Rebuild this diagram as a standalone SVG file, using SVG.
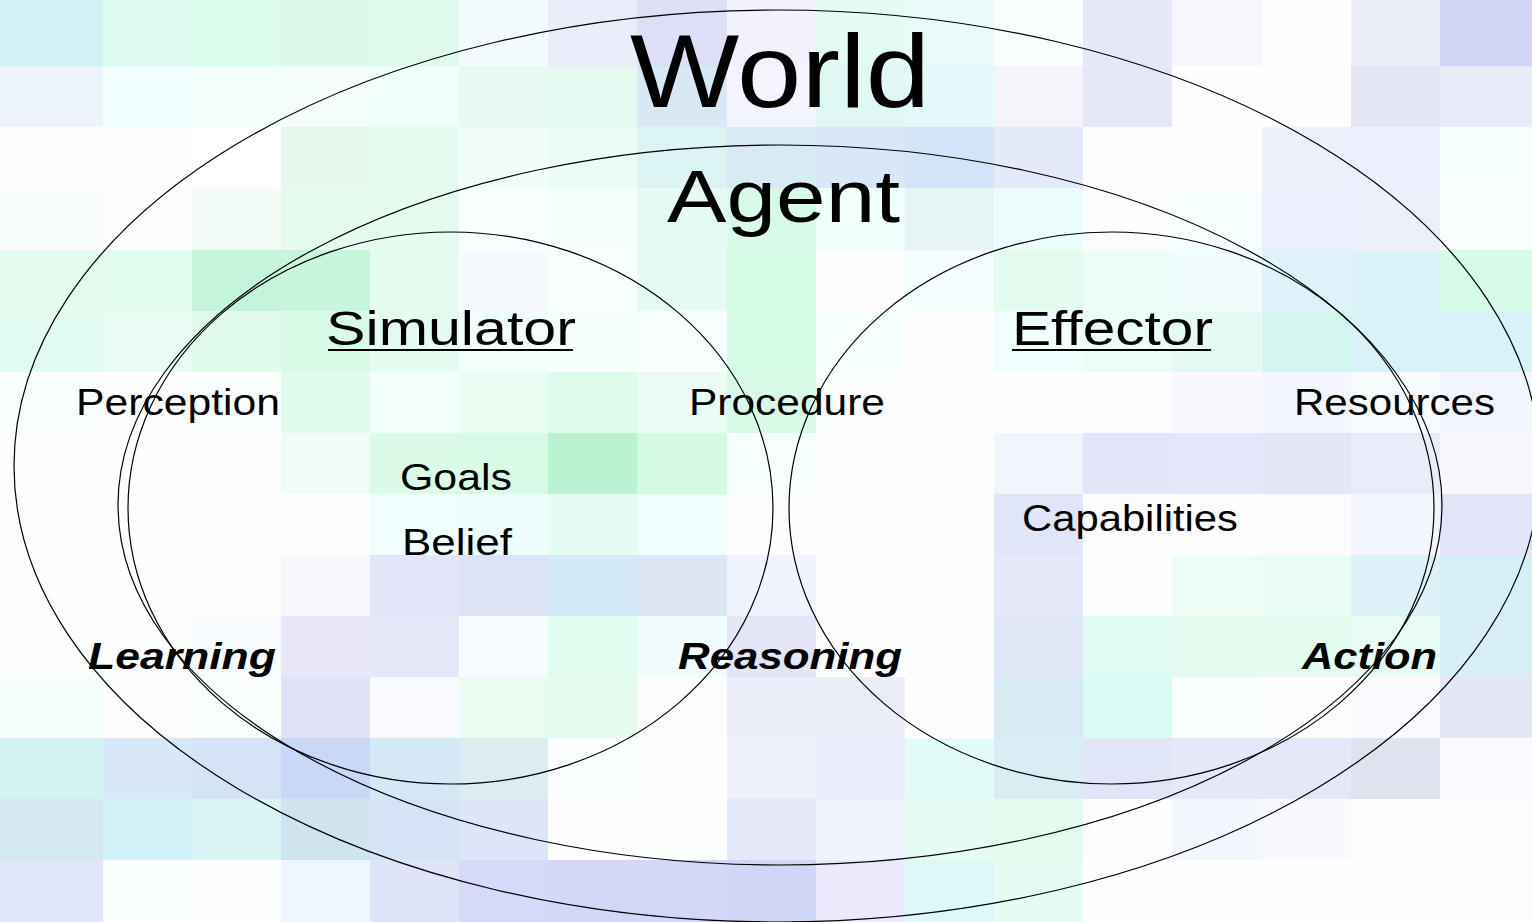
<svg xmlns="http://www.w3.org/2000/svg" width="1532" height="922" viewBox="0 0 1532 922">
<style>
.ring{fill:none;stroke:#000;stroke-width:1.2}
.lbl{font-family:"Liberation Sans",Arial,sans-serif;fill:#000}
.bi{font-weight:bold;font-style:italic}
.ul{stroke:#000;stroke-width:2.2}
</style>
<g id="background" shape-rendering="crispEdges">
<g transform="translate(0,0)">
<rect x="0" width="104" height="67" fill="#d2f2f6"/><rect x="103" width="90" height="67" fill="#dcfbee"/><rect x="192" width="90" height="67" fill="#dcfcec"/><rect x="281" width="90" height="67" fill="#def9ea"/><rect x="370" width="90" height="67" fill="#e0fbee"/><rect x="459" width="90" height="67" fill="#f2fbfd"/><rect x="548" width="90" height="67" fill="#eaeefa"/><rect x="637" width="91" height="67" fill="#dcdff6"/><rect x="727" width="90" height="67" fill="#f2f2fc"/><rect x="816" width="90" height="67" fill="#e4faf4"/><rect x="905" width="90" height="67" fill="#e8fbf8"/><rect x="994" width="90" height="67" fill="#fafefe"/><rect x="1083" width="90" height="67" fill="#e4e8f8"/><rect x="1172" width="91" height="67" fill="#f6f6fc"/><rect x="1262" width="90" height="67" fill="#fefefe"/><rect x="1351" width="90" height="67" fill="#eceef8"/><rect x="1440" width="92" height="67" fill="#d0d6f6"/>
</g>
<g transform="translate(0,66)">
<rect x="0" width="104" height="62" fill="#eef4fc"/><rect x="103" width="90" height="62" fill="#f0fefe"/><rect x="192" width="90" height="62" fill="#f2fefc"/><rect x="281" width="90" height="62" fill="#f4fdfb"/><rect x="370" width="90" height="62" fill="#f0fefc"/><rect x="459" width="90" height="62" fill="#e6faf2"/><rect x="548" width="90" height="62" fill="#e4faf0"/><rect x="637" width="91" height="62" fill="#d8e8f4"/><rect x="727" width="90" height="62" fill="#f4f4fe"/><rect x="816" width="90" height="62" fill="#e0f8f4"/><rect x="905" width="90" height="62" fill="#e4fafa"/><rect x="994" width="90" height="62" fill="#f4f4fa"/><rect x="1083" width="90" height="62" fill="#e4e8f6"/><rect x="1172" width="91" height="62" fill="#fefefe"/><rect x="1262" width="90" height="62" fill="#fcfefe"/><rect x="1351" width="90" height="62" fill="#e4e6f4"/><rect x="1440" width="92" height="62" fill="#e8ecf8"/>
</g>
<g transform="translate(0,127)">
<rect x="0" width="104" height="62" fill="#fafcff"/><rect x="103" width="90" height="62" fill="#fcfffd"/><rect x="192" width="90" height="62" fill="#fefffe"/><rect x="281" width="90" height="62" fill="#e4f8ec"/><rect x="370" width="90" height="62" fill="#e4fbef"/><rect x="459" width="90" height="62" fill="#f0fdf8"/><rect x="548" width="90" height="62" fill="#eafcf4"/><rect x="637" width="91" height="62" fill="#dcf4f4"/><rect x="727" width="90" height="62" fill="#d8eaf4"/><rect x="816" width="90" height="62" fill="#d8e8f8"/><rect x="905" width="90" height="62" fill="#d4e4f8"/><rect x="994" width="90" height="62" fill="#e4eafa"/><rect x="1083" width="90" height="62" fill="#fefefe"/><rect x="1172" width="91" height="62" fill="#fefefe"/><rect x="1262" width="90" height="62" fill="#eef0fc"/><rect x="1351" width="90" height="62" fill="#eceffc"/><rect x="1440" width="92" height="62" fill="#f6fefe"/>
</g>
<g transform="translate(0,188)">
<rect x="0" width="104" height="63" fill="#f8fcfc"/><rect x="103" width="90" height="63" fill="#fefefe"/><rect x="192" width="90" height="63" fill="#f4fcf8"/><rect x="281" width="90" height="63" fill="#e4fbee"/><rect x="370" width="90" height="63" fill="#e6fbf0"/><rect x="459" width="90" height="63" fill="#fafefe"/><rect x="548" width="90" height="63" fill="#f4fefc"/><rect x="637" width="91" height="63" fill="#e4faf2"/><rect x="727" width="90" height="63" fill="#d8fae8"/><rect x="816" width="90" height="63" fill="#f0fefc"/><rect x="905" width="90" height="63" fill="#e6f4f6"/><rect x="994" width="90" height="63" fill="#eafcfc"/><rect x="1083" width="90" height="63" fill="#fcfefe"/><rect x="1172" width="91" height="63" fill="#f6fefe"/><rect x="1262" width="90" height="63" fill="#eceffc"/><rect x="1351" width="90" height="63" fill="#ecf0fb"/><rect x="1440" width="92" height="63" fill="#fafefe"/>
</g>
<g transform="translate(0,250)">
<rect x="0" width="104" height="62" fill="#e4fbf0"/><rect x="103" width="90" height="62" fill="#e2fcee"/><rect x="192" width="90" height="62" fill="#c4f5da"/><rect x="281" width="90" height="62" fill="#c8f6dc"/><rect x="370" width="90" height="62" fill="#e4fcef"/><rect x="459" width="90" height="62" fill="#f6fafe"/><rect x="548" width="90" height="62" fill="#f8fefe"/><rect x="637" width="91" height="62" fill="#e4fcf2"/><rect x="727" width="90" height="62" fill="#d4fbe4"/><rect x="816" width="90" height="62" fill="#fefefe"/><rect x="905" width="90" height="62" fill="#f4fefe"/><rect x="994" width="90" height="62" fill="#e4fcf0"/><rect x="1083" width="90" height="62" fill="#eefdf8"/><rect x="1172" width="91" height="62" fill="#f0fcfe"/><rect x="1262" width="90" height="62" fill="#dff4fa"/><rect x="1351" width="90" height="62" fill="#daf2f8"/><rect x="1440" width="92" height="62" fill="#d8fcea"/>
</g>
<g transform="translate(0,311)">
<rect x="0" width="104" height="62" fill="#e2fbf0"/><rect x="103" width="90" height="62" fill="#e8fcf4"/><rect x="192" width="90" height="62" fill="#e0fbec"/><rect x="281" width="90" height="62" fill="#d8fae6"/><rect x="370" width="90" height="62" fill="#e4fcf0"/><rect x="459" width="90" height="62" fill="#f2fefc"/><rect x="548" width="90" height="62" fill="#f4fefc"/><rect x="637" width="91" height="62" fill="#f8fefe"/><rect x="727" width="90" height="62" fill="#d4fbe6"/><rect x="816" width="90" height="62" fill="#f6fefe"/><rect x="905" width="90" height="62" fill="#fefefe"/><rect x="994" width="90" height="62" fill="#f0fefe"/><rect x="1083" width="90" height="62" fill="#ecfcf6"/><rect x="1172" width="91" height="62" fill="#e4faf2"/><rect x="1262" width="90" height="62" fill="#d4f6f0"/><rect x="1351" width="90" height="62" fill="#d8f2f8"/><rect x="1440" width="92" height="62" fill="#d8f2f8"/>
</g>
<g transform="translate(0,372)">
<rect x="0" width="104" height="62" fill="#f8fefe"/><rect x="103" width="90" height="62" fill="#fefefe"/><rect x="192" width="90" height="62" fill="#fafefe"/><rect x="281" width="90" height="62" fill="#e0fbec"/><rect x="370" width="90" height="62" fill="#f2fefa"/><rect x="459" width="90" height="62" fill="#e8fcf2"/><rect x="548" width="90" height="62" fill="#dcfbea"/><rect x="637" width="91" height="62" fill="#eafcf4"/><rect x="727" width="90" height="62" fill="#d8fbe8"/><rect x="816" width="90" height="62" fill="#fcfefe"/><rect x="905" width="90" height="62" fill="#fefefe"/><rect x="994" width="90" height="62" fill="#fefefe"/><rect x="1083" width="90" height="62" fill="#fcfefe"/><rect x="1172" width="91" height="62" fill="#f8f8fe"/><rect x="1262" width="90" height="62" fill="#f4f6fe"/><rect x="1351" width="90" height="62" fill="#f8fcfe"/><rect x="1440" width="92" height="62" fill="#f2f4fe"/>
</g>
<g transform="translate(0,433)">
<rect x="0" width="104" height="62" fill="#fefefe"/><rect x="103" width="90" height="62" fill="#fefefe"/><rect x="192" width="90" height="62" fill="#fefefe"/><rect x="281" width="90" height="62" fill="#f0fdf6"/><rect x="370" width="90" height="62" fill="#dcfae8"/><rect x="459" width="90" height="62" fill="#d8fae6"/><rect x="548" width="90" height="62" fill="#b8f2d0"/><rect x="637" width="91" height="62" fill="#d4fae4"/><rect x="727" width="90" height="62" fill="#f6fefe"/><rect x="816" width="90" height="62" fill="#fefefe"/><rect x="905" width="90" height="62" fill="#fefefe"/><rect x="994" width="90" height="62" fill="#f2f6fc"/><rect x="1083" width="90" height="62" fill="#e2e6f8"/><rect x="1172" width="91" height="62" fill="#e4e8fa"/><rect x="1262" width="90" height="62" fill="#e4e6f8"/><rect x="1351" width="90" height="62" fill="#eaecfa"/><rect x="1440" width="92" height="62" fill="#f6f8fe"/>
</g>
<g transform="translate(0,494)">
<rect x="0" width="104" height="62" fill="#fcfefe"/><rect x="103" width="90" height="62" fill="#fefefe"/><rect x="192" width="90" height="62" fill="#fefefe"/><rect x="281" width="90" height="62" fill="#fefefe"/><rect x="370" width="90" height="62" fill="#f0fefe"/><rect x="459" width="90" height="62" fill="#eefefc"/><rect x="548" width="90" height="62" fill="#e4fcf2"/><rect x="637" width="91" height="62" fill="#f0fefe"/><rect x="727" width="90" height="62" fill="#fcfcfe"/><rect x="816" width="90" height="62" fill="#fefefe"/><rect x="905" width="90" height="62" fill="#fefefe"/><rect x="994" width="90" height="62" fill="#e0e6f8"/><rect x="1083" width="90" height="62" fill="#fefefe"/><rect x="1172" width="91" height="62" fill="#fefefe"/><rect x="1262" width="90" height="62" fill="#fcfcfe"/><rect x="1351" width="90" height="62" fill="#f4f6fe"/><rect x="1440" width="92" height="62" fill="#e2e5f8"/>
</g>
<g transform="translate(0,555)">
<rect x="0" width="104" height="62" fill="#fefefe"/><rect x="103" width="90" height="62" fill="#fefefe"/><rect x="192" width="90" height="62" fill="#fefefe"/><rect x="281" width="90" height="62" fill="#f6f8fe"/><rect x="370" width="90" height="62" fill="#e2e6f8"/><rect x="459" width="90" height="62" fill="#dfe3f8"/><rect x="548" width="90" height="62" fill="#d4eaf8"/><rect x="637" width="91" height="62" fill="#dce6f4"/><rect x="727" width="90" height="62" fill="#f0f4fe"/><rect x="816" width="90" height="62" fill="#fefefe"/><rect x="905" width="90" height="62" fill="#fcfcfe"/><rect x="994" width="90" height="62" fill="#e4e8f8"/><rect x="1083" width="90" height="62" fill="#fcfefe"/><rect x="1172" width="91" height="62" fill="#eefcf6"/><rect x="1262" width="90" height="62" fill="#eafcf6"/><rect x="1351" width="90" height="62" fill="#dcf2f8"/><rect x="1440" width="92" height="62" fill="#d6eef8"/>
</g>
<g transform="translate(0,616)">
<rect x="0" width="104" height="62" fill="#fcfefe"/><rect x="103" width="90" height="62" fill="#fefefe"/><rect x="192" width="90" height="62" fill="#f8fcfe"/><rect x="281" width="90" height="62" fill="#e8e8f8"/><rect x="370" width="90" height="62" fill="#e4e8f8"/><rect x="459" width="90" height="62" fill="#f8fcfe"/><rect x="548" width="90" height="62" fill="#e0fcee"/><rect x="637" width="91" height="62" fill="#f0fcfe"/><rect x="727" width="90" height="62" fill="#e4e6f8"/><rect x="816" width="90" height="62" fill="#fefefe"/><rect x="905" width="90" height="62" fill="#fcfcfe"/><rect x="994" width="90" height="62" fill="#e0e8f8"/><rect x="1083" width="90" height="62" fill="#e0fbf2"/><rect x="1172" width="91" height="62" fill="#e4fcf0"/><rect x="1262" width="90" height="62" fill="#e4fcf0"/><rect x="1351" width="90" height="62" fill="#e8fcf4"/><rect x="1440" width="92" height="62" fill="#d8eef8"/>
</g>
<g transform="translate(0,677)">
<rect x="0" width="104" height="62" fill="#f4fefa"/><rect x="103" width="90" height="62" fill="#fefefe"/><rect x="192" width="90" height="62" fill="#fafefe"/><rect x="281" width="90" height="62" fill="#e0e2f8"/><rect x="370" width="90" height="62" fill="#f8fafe"/><rect x="459" width="90" height="62" fill="#e8fcf0"/><rect x="548" width="90" height="62" fill="#e4fbee"/><rect x="637" width="91" height="62" fill="#fcfefe"/><rect x="727" width="90" height="62" fill="#eceefa"/><rect x="816" width="90" height="62" fill="#eceefa"/><rect x="905" width="90" height="62" fill="#fefefe"/><rect x="994" width="90" height="62" fill="#d8eaf4"/><rect x="1083" width="90" height="62" fill="#d8fcf4"/><rect x="1172" width="91" height="62" fill="#f8fefe"/><rect x="1262" width="90" height="62" fill="#fefefe"/><rect x="1351" width="90" height="62" fill="#fcfafe"/><rect x="1440" width="92" height="62" fill="#e4e6f8"/>
</g>
<g transform="translate(0,738)">
<rect x="0" width="104" height="62" fill="#d4f4f2"/><rect x="103" width="90" height="62" fill="#d8e8f8"/><rect x="192" width="90" height="62" fill="#d4e4f6"/><rect x="281" width="90" height="62" fill="#c8d8f6"/><rect x="370" width="90" height="62" fill="#d4e8f6"/><rect x="459" width="90" height="62" fill="#dcecf0"/><rect x="548" width="90" height="62" fill="#fafefe"/><rect x="637" width="91" height="62" fill="#fefefe"/><rect x="727" width="90" height="62" fill="#eef0fc"/><rect x="816" width="90" height="62" fill="#eaeefc"/><rect x="905" width="90" height="62" fill="#e4fcf8"/><rect x="994" width="90" height="62" fill="#d8eef4"/><rect x="1083" width="90" height="62" fill="#e0e6f8"/><rect x="1172" width="91" height="62" fill="#e4e8f8"/><rect x="1262" width="90" height="62" fill="#e4e8f8"/><rect x="1351" width="90" height="62" fill="#e0e2f0"/><rect x="1440" width="92" height="62" fill="#f8fafe"/>
</g>
<g transform="translate(0,799)">
<rect x="0" width="104" height="62" fill="#d4e8f4"/><rect x="103" width="90" height="62" fill="#d0f2f8"/><rect x="192" width="90" height="62" fill="#d8f4f4"/><rect x="281" width="90" height="62" fill="#d0e4f0"/><rect x="370" width="90" height="62" fill="#d4e4f6"/><rect x="459" width="90" height="62" fill="#dce6f8"/><rect x="548" width="90" height="62" fill="#fefefe"/><rect x="637" width="91" height="62" fill="#fcfefe"/><rect x="727" width="90" height="62" fill="#e4e8f8"/><rect x="816" width="90" height="62" fill="#f0f4fe"/><rect x="905" width="90" height="62" fill="#e4fcf4"/><rect x="994" width="90" height="62" fill="#e4fcf0"/><rect x="1083" width="90" height="62" fill="#fcfefe"/><rect x="1172" width="91" height="62" fill="#f4f6fe"/><rect x="1262" width="90" height="62" fill="#f8f8fe"/><rect x="1351" width="90" height="62" fill="#fefefe"/><rect x="1440" width="92" height="62" fill="#fefefe"/>
</g>
<g transform="translate(0,860)">
<rect x="0" width="104" height="62" fill="#e0e6f8"/><rect x="103" width="90" height="62" fill="#fafefe"/><rect x="192" width="90" height="62" fill="#fcfefe"/><rect x="281" width="90" height="62" fill="#f0f6fe"/><rect x="370" width="90" height="62" fill="#e0e4f8"/><rect x="459" width="90" height="62" fill="#d4daf8"/><rect x="548" width="90" height="62" fill="#d4d8f8"/><rect x="637" width="91" height="62" fill="#d4d8f8"/><rect x="727" width="90" height="62" fill="#d0d6f6"/><rect x="816" width="90" height="62" fill="#eaeafc"/><rect x="905" width="90" height="62" fill="#dcf8f8"/><rect x="994" width="90" height="62" fill="#e4fcf2"/><rect x="1083" width="90" height="62" fill="#fefefe"/><rect x="1172" width="91" height="62" fill="#fefefe"/><rect x="1262" width="90" height="62" fill="#fefefe"/><rect x="1351" width="90" height="62" fill="#fefefe"/><rect x="1440" width="92" height="62" fill="#fefefe"/>
</g>
</g>
<g id="world">
<ellipse class="ring" cx="777" cy="466" rx="763" ry="456"/>
<text class="lbl" x="630" y="107" font-size="103" textLength="300" lengthAdjust="spacingAndGlyphs">World</text>
</g>
<g id="agent">
<ellipse class="ring" cx="780" cy="505" rx="662" ry="360"/>
<text class="lbl" x="667" y="222" font-size="75" textLength="233" lengthAdjust="spacingAndGlyphs">Agent</text>
</g>
<g id="simulator">
<ellipse class="ring" cx="450.5" cy="508" rx="322.5" ry="276"/>
<text class="lbl" x="326" y="345" font-size="49" textLength="250" lengthAdjust="spacingAndGlyphs">Simulator</text>
<line class="ul" x1="328" y1="350" x2="573" y2="350"/>
<text class="lbl" x="400" y="490" font-size="36" textLength="112" lengthAdjust="spacingAndGlyphs">Goals</text>
<text class="lbl" x="402" y="555" font-size="36" textLength="110" lengthAdjust="spacingAndGlyphs">Belief</text>
</g>
<g id="effector">
<ellipse class="ring" cx="1111.5" cy="508" rx="322.5" ry="276"/>
<text class="lbl" x="1012" y="345" font-size="49" textLength="201" lengthAdjust="spacingAndGlyphs">Effector</text>
<line class="ul" x1="1012" y1="350" x2="1211" y2="350"/>
<text class="lbl" x="1022" y="531" font-size="36" textLength="216" lengthAdjust="spacingAndGlyphs">Capabilities</text>
</g>
<g id="labels">
<text class="lbl" x="76" y="415" font-size="36" textLength="204" lengthAdjust="spacingAndGlyphs">Perception</text>
<text class="lbl" x="689" y="415" font-size="36" textLength="196" lengthAdjust="spacingAndGlyphs">Procedure</text>
<text class="lbl" x="1294" y="415" font-size="36" textLength="201" lengthAdjust="spacingAndGlyphs">Resources</text>
<text class="lbl bi" x="88" y="669" font-size="37" textLength="188" lengthAdjust="spacingAndGlyphs">Learning</text>
<text class="lbl bi" x="678" y="669" font-size="37" textLength="224" lengthAdjust="spacingAndGlyphs">Reasoning</text>
<text class="lbl bi" x="1302" y="669" font-size="37" textLength="135" lengthAdjust="spacingAndGlyphs">Action</text>
</g>
<g id="connectors"/>
</svg>
